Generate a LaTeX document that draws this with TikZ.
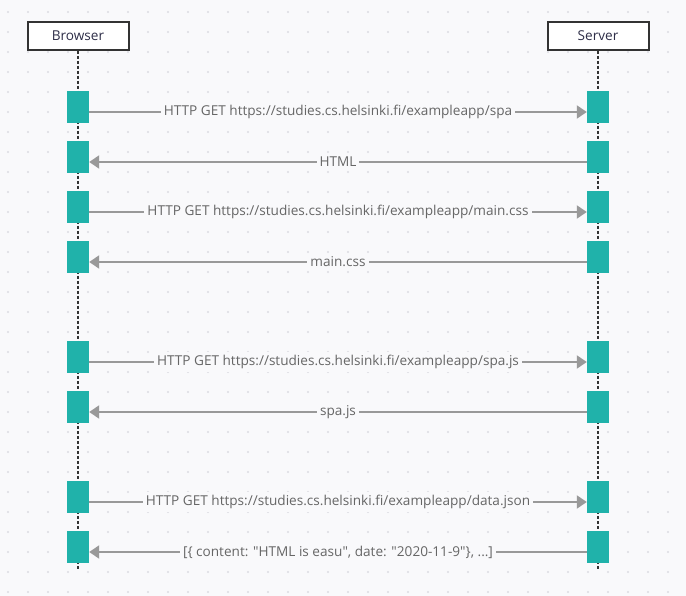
\documentclass[tikz,border=0pt]{standalone}
\usepackage{fontspec}
\setmainfont{Open Sans}
\usetikzlibrary{arrows.meta}
\definecolor{bgpaper}{HTML}{F9F9FB}
\definecolor{griddot}{HTML}{DCDCE2}
\definecolor{actteal}{HTML}{20B2AA}
\definecolor{msggray}{HTML}{999999}
\definecolor{labelgray}{HTML}{666666}
\definecolor{boxdark}{HTML}{333333}
\definecolor{actortext}{HTML}{2E2E48}
\tikzset{
    every node/.style={font=\fontsize{13.6}{16}\selectfont},
    actor/.style={draw=boxdark,line width=2pt,fill=white,minimum width=101pt,minimum height=28pt,inner sep=0pt,text=actortext},
    lifeline/.style={draw=boxdark,line width=2pt,dash pattern=on 3pt off 2pt},
    activation/.style={fill=actteal,minimum width=22pt,minimum height=32pt,inner sep=0pt},
    msg/.style={draw=msggray,line width=2pt,-{Triangle[length=10pt,width=13pt]}},
    msglabel/.style={fill=bgpaper,text=labelgray,inner sep=3pt}
}
\begin{document}
\begin{tikzpicture}[x=1pt,y=-1pt]
\useasboundingbox[fill=bgpaper] (0,0) rectangle (686,596);
\foreach \x in {8,28,...,680}
    \foreach \y in {12,32,...,592}
        \fill[griddot] (\x,\y) circle (1.1);

% lifelines
\coordinate (browserend) at (78,569);
\coordinate (serverend) at (598,569);
\node[actor] (browser) at (78,36) {Browser};
\node[actor] (server) at (598,36) {Server};
\draw[lifeline] (browser.south) -- (browserend);
\draw[lifeline] (server.south) -- (serverend);

% activations
\foreach \i/\y in {1/107,2/157,3/207,4/257,5/357,6/407,7/497,8/547} {
    \node[activation] (b\i) at (78,\y) {};
    \node[activation] (s\i) at (598,\y) {};
}

% messages
\draw[msg] ([yshift=-5pt]b1.east) -- ([yshift=-5pt]s1.west)
    node[midway,msglabel] {HTTP GET https://studies.cs.helsinki.fi/exampleapp/spa};
\draw[msg] ([yshift=-5pt]s2.west) -- ([yshift=-5pt]b2.east)
    node[midway,msglabel] {HTML};
\draw[msg] ([yshift=-5pt]b3.east) -- ([yshift=-5pt]s3.west)
    node[midway,msglabel] {HTTP GET https://studies.cs.helsinki.fi/exampleapp/main.css};
\draw[msg] ([yshift=-5pt]s4.west) -- ([yshift=-5pt]b4.east)
    node[midway,msglabel] {main.css};
\draw[msg] ([yshift=-5pt]b5.east) -- ([yshift=-5pt]s5.west)
    node[midway,msglabel] {HTTP GET https://studies.cs.helsinki.fi/exampleapp/spa.js};
\draw[msg] ([yshift=-5pt]s6.west) -- ([yshift=-5pt]b6.east)
    node[midway,msglabel] {spa.js};
\draw[msg] ([yshift=-5pt]b7.east) -- ([yshift=-5pt]s7.west)
    node[midway,msglabel] {HTTP GET https://studies.cs.helsinki.fi/exampleapp/data.json};
\draw[msg] ([yshift=-5pt]s8.west) -- ([yshift=-5pt]b8.east)
    node[midway,msglabel] {[\{ content: \textquotedbl HTML is easu\textquotedbl, date: \textquotedbl 2020-11-9\textquotedbl\}, ...]};
\end{tikzpicture}
\end{document}
